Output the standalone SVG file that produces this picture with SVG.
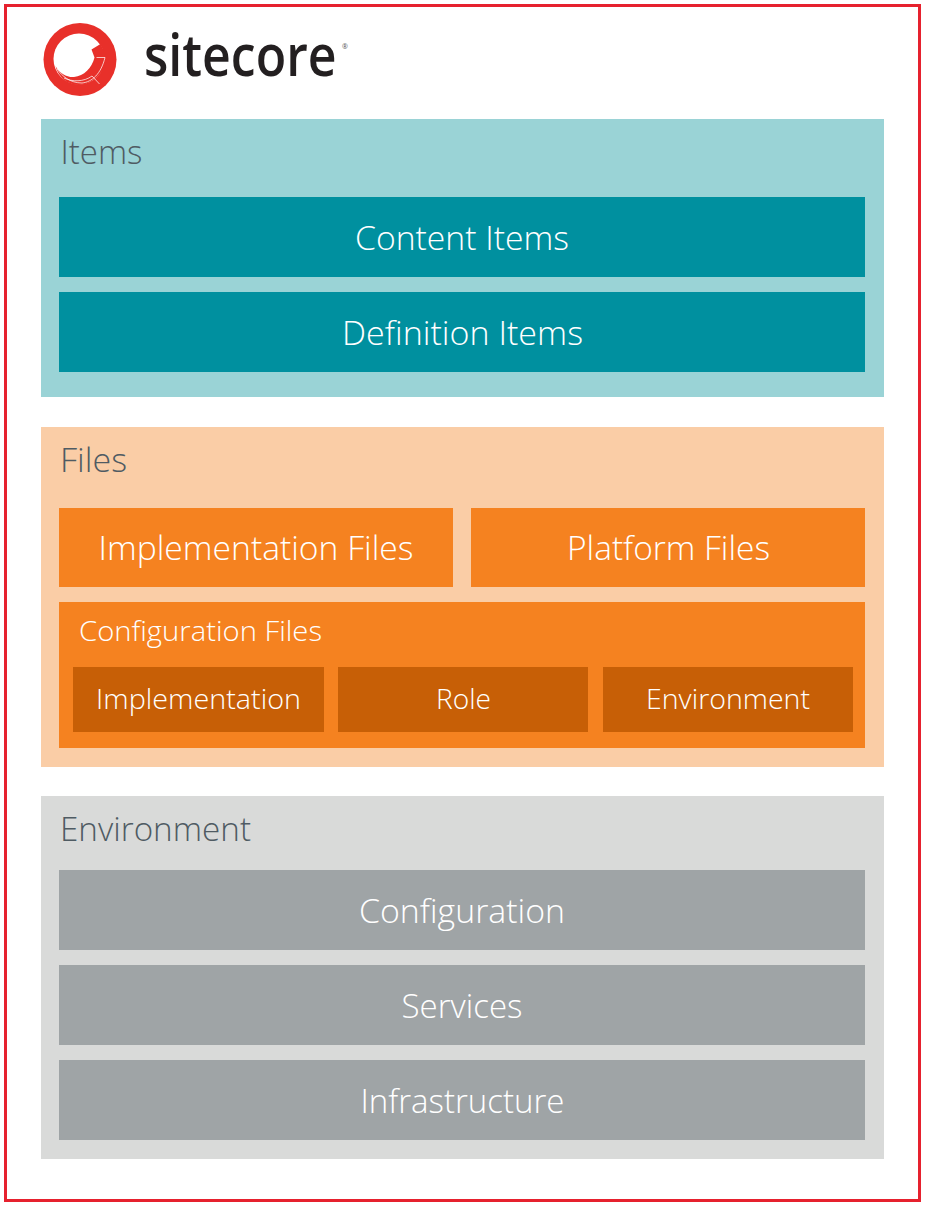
<svg xmlns="http://www.w3.org/2000/svg" width="925" height="1206" viewBox="0 0 925 1206">
<style>
text{font-family:"Open Sans","Noto Sans","Liberation Sans",sans-serif;font-weight:300;text-anchor:middle;fill:#fff}
.h{font-size:33px;fill:#4f5b63;text-anchor:start}
.m{font-size:33px}
.s{font-size:28px}
.teal{fill:#00909f}.org{fill:#f58220}.dk{fill:#c75f06}.gr{fill:#9fa4a6}
</style>
<rect width="925" height="1206" fill="#fff"/>
<rect x="5.500" y="5.500" width="914" height="1195" fill="#fff" stroke="#e6212e" stroke-width="3"/>
<g id="logo">
<circle cx="80" cy="59.500" r="36.500" fill="#e8302a"/>
<circle cx="79" cy="59" r="25.500" fill="#fff"/>
<path d="M55.500 66C60 74 67 77.500 74 77C84 76 92 68 94.500 57.500L91.500 49.500L100.500 44L107 57C106 72 92 85 79 85C68 85 58 77 55.500 66Z" fill="#e8302a"/>
<path d="M57 69C62 76 70 83 82 83C92 82 101 74 105 57.500H96.500M64 78C72 82 84 82 92 76L99.500 84" fill="none" stroke="#fff" stroke-width="0.900" opacity="0.800"/>
<text transform="translate(144 76) scale(1 1.14)" style="font-size:50px;text-anchor:start;fill:#231f20;font-weight:600">sitecore</text>
<text x="345" y="49" style="font-size:7px;fill:#555;font-weight:400">®</text>
</g>
<g id="items">
<rect x="41" y="119" width="843" height="278" fill="#9ad3d6"/>
<text class="h" x="60.500" y="164" textLength="82" lengthAdjust="spacingAndGlyphs">Items</text>
</g>
<g id="content-items"><rect class="teal" x="59" y="197" width="806" height="80"/><text class="m" x="462" y="250" textLength="214" lengthAdjust="spacingAndGlyphs">Content Items</text></g>
<g id="definition-items"><rect class="teal" x="59" y="292" width="806" height="80"/><text class="m" x="462.500" y="345" textLength="241" lengthAdjust="spacingAndGlyphs">Definition Items</text></g>
<g id="files">
<rect x="41" y="427" width="843" height="340" fill="#facda6"/>
<text class="h" x="60" y="472" textLength="67" lengthAdjust="spacingAndGlyphs">Files</text>
</g>
<g id="implementation-files"><rect class="org" x="59" y="508" width="394" height="79"/><text class="m" x="256" y="560" textLength="315" lengthAdjust="spacingAndGlyphs">Implementation Files</text></g>
<g id="platform-files"><rect class="org" x="471" y="508" width="394" height="79"/><text class="m" x="668.500" y="560" textLength="203" lengthAdjust="spacingAndGlyphs">Platform Files</text></g>
<g id="configuration-files"><rect class="org" x="59" y="602" width="806" height="146"/><text class="s" x="79" y="641" style="text-anchor:start" textLength="243" lengthAdjust="spacingAndGlyphs">Configuration Files</text></g>
<g id="cfg-implementation"><rect class="dk" x="73" y="667" width="251" height="65"/><text class="s" x="198.500" y="709" textLength="205" lengthAdjust="spacingAndGlyphs">Implementation</text></g>
<g id="cfg-role"><rect class="dk" x="338" y="667" width="250" height="65"/><text class="s" x="463.500" y="709" textLength="55" lengthAdjust="spacingAndGlyphs">Role</text></g>
<g id="cfg-environment"><rect class="dk" x="603" y="667" width="250" height="65"/><text class="s" x="728" y="709" textLength="164" lengthAdjust="spacingAndGlyphs">Environment</text></g>
<g id="environment">
<rect x="41" y="796" width="843" height="363" fill="#d9dad9"/>
<text class="h" x="60" y="841" textLength="191" lengthAdjust="spacingAndGlyphs">Environment</text>
</g>
<g id="configuration"><rect class="gr" x="59" y="870" width="806" height="80"/><text class="m" x="462" y="923" textLength="206" lengthAdjust="spacingAndGlyphs">Configuration</text></g>
<g id="services"><rect class="gr" x="59" y="965" width="806" height="80"/><text class="m" x="462" y="1018" textLength="121" lengthAdjust="spacingAndGlyphs">Services</text></g>
<g id="infrastructure"><rect class="gr" x="59" y="1060" width="806" height="80"/><text class="m" x="462.500" y="1113" textLength="204" lengthAdjust="spacingAndGlyphs">Infrastructure</text></g>
</svg>
